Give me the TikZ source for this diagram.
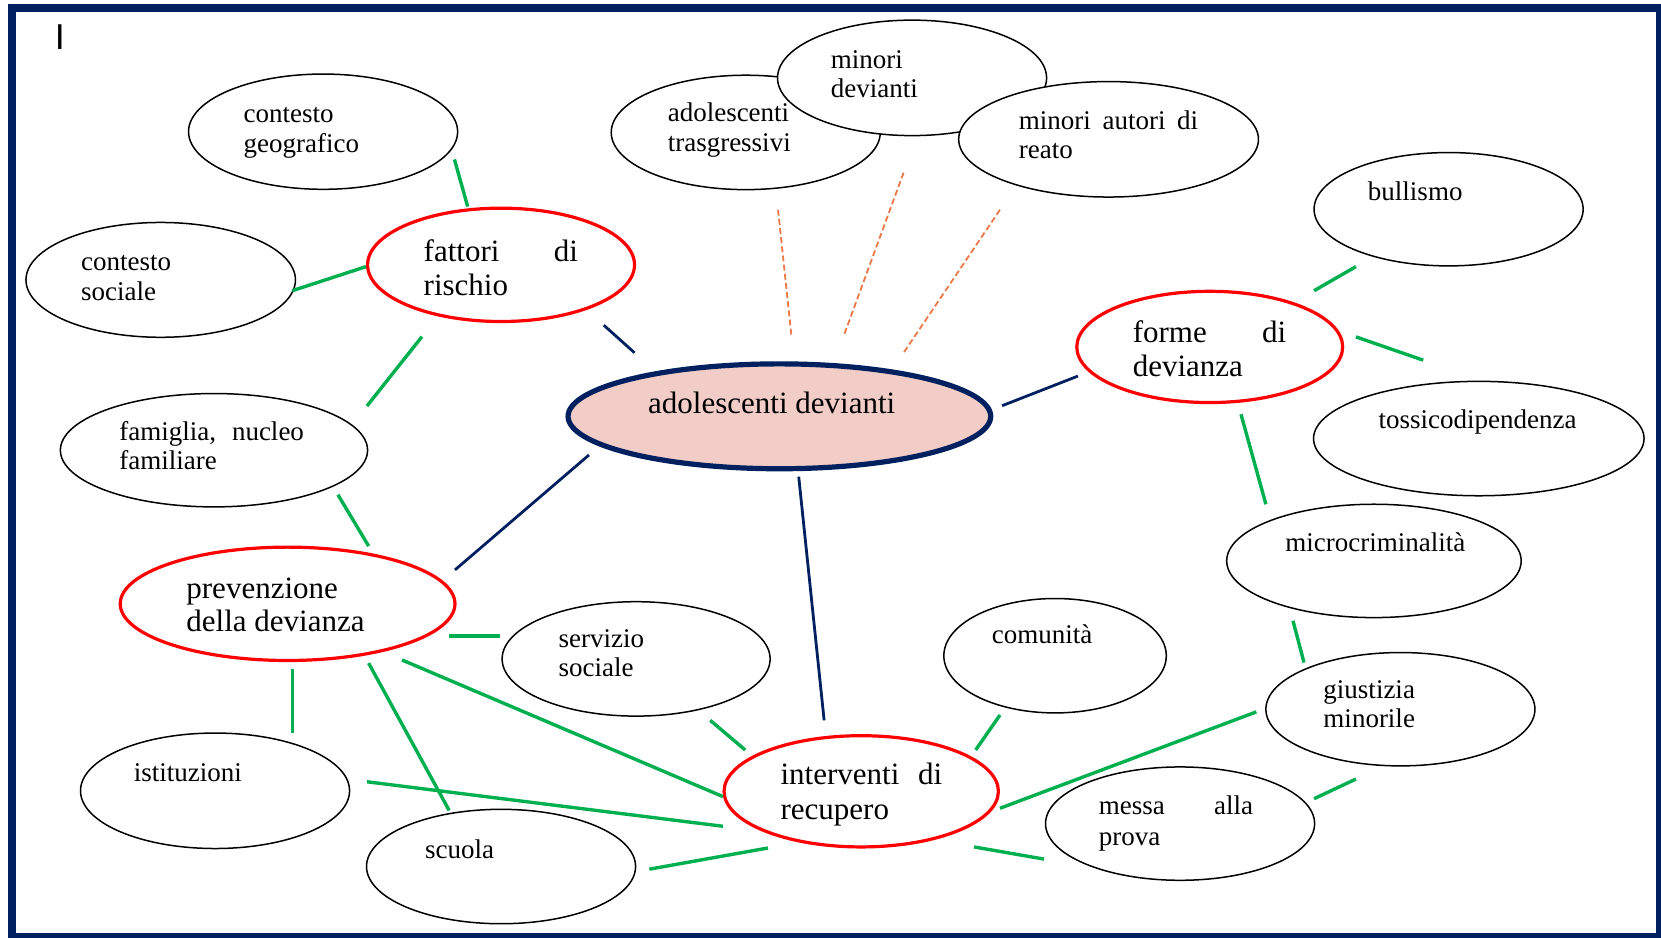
\documentclass[tikz,border=0pt]{standalone}
\usepackage{fontspec}
\setmainfont{Liberation Serif}
\newfontfamily\barfont{Liberation Sans}
\usetikzlibrary{shapes.geometric}
\definecolor{cNavy}{RGB}{0,32,96}
\definecolor{cGreen}{RGB}{0,176,80}
\definecolor{cRed}{RGB}{255,0,0}
\definecolor{cPink}{RGB}{242,204,198}
\definecolor{cOrange}{RGB}{235,120,70}
\begin{document}
\begin{tikzpicture}[x=0.52965pt,y=-0.52965pt,
  el/.style 2 args={ellipse, minimum width={#1*1.0593pt}, minimum height={#2*1.0593pt}, inner sep=0pt, draw=black, line width=0.75pt, fill=white},
  redel/.style 2 args={el={#1}{#2}, draw=cRed, line width=1.6pt},
  mainel/.style 2 args={el={#1}{#2}, draw=cNavy, line width=2.6pt, fill=cPink},
  txt/.style={anchor=base west, inner sep=0pt, font=\fontsize{13.5}{15}\selectfont},
  btxt/.style={anchor=base west, inner sep=0pt, font=\fontsize{15.5}{17}\selectfont},
  gl/.style={draw=cGreen, line width=1.7pt},
  nl/.style={draw=cNavy, line width=1.4pt},
  dl/.style={draw=cOrange, line width=0.9pt, dash pattern=on 3pt off 1.6pt},
]
\useasboundingbox (0,0) rectangle (1568,885);
\begin{scope}
\clip (0,0) rectangle (1568,885);
\draw[cNavy, line width=4pt] (11.3,7.9) rectangle (1567,884.6);
\end{scope}
\node[anchor=base west, inner sep=0pt, font=\barfont\fontsize{18}{20}\selectfont] (cur) at (51.5,46.5) {I};

% ellipses
\node[el={127}{54.4}] (cg) at (305,124.3) {};
\node[el={127.2}{54.2}] (cs) at (151.7,264.2) {};
\node[redel={126}{53.5}] (fr) at (473,250) {};
\node[el={145}{53.5}] (fa) at (202,425) {};
\node[redel={158}{53.5}] (pr) at (271.5,570) {};
\node[el={127}{54.5}] (is) at (203,746.5) {};
\node[el={127}{54}] (sc) at (473,818) {};
\node[el={126.5}{54}] (ss) at (600.5,622) {};
\node[redel={129.5}{52.5}] (ir) at (813,747) {};
\node[el={105}{54}] (co) at (996,619) {};
\node[mainel={199.5}{49.5}] (ad) at (735.75,393) {};
\node[el={127}{54}] (at) at (704,125) {};
\node[el={127}{54.5}] (md) at (861,73.5) {};
\node[el={141.5}{54.5}] (ma) at (1046.5,131.5) {};
\node[redel={125.5}{52.5}] (fo) at (1142,327.5) {};
\node[el={127}{53.5}] (bu) at (1367.5,197.5) {};
\node[el={156}{54}] (to) at (1396,414) {};
\node[el={139}{53.5}] (mc) at (1297,529.5) {};
\node[el={127}{53.5}] (gi) at (1322,669.5) {};
\node[el={127}{53.5}] (mp) at (1114,777.5) {};

% texts
\node[txt] (cg-a) at (229.7,115.8) {contesto};
\node[txt] (cg-b) at (229.7,144.1) {geografico};
\node[txt] (cs-a) at (76.3,254.9) {contesto};
\node[txt] (cs-b) at (76.3,283.2) {sociale};
\node[btxt] (fr-a) at (399.6,247) {\makebox[77.1pt][s]{fattori di}};
\node[btxt] (fr-b) at (399.6,279.4) {rischio};
\node[txt] (fa-a) at (112.3,415.5) {\makebox[92.3pt][s]{famiglia, nucleo}};
\node[txt] (fa-b) at (112.3,443) {familiare};
\node[btxt] (pr-a) at (175.6,565) {prevenzione};
\node[btxt] (pr-b) at (175.6,596.5) {della devianza};
\node[txt] (ss-a) at (527,611) {servizio};
\node[txt] (ss-b) at (527,639) {sociale};
\node[txt] (is-a) at (126,738) {istituzioni};
\node[txt] (sc-a) at (401,810) {scuola};
\node[btxt] (ir-a) at (736.5,741) {\makebox[80.8pt][s]{interventi di}};
\node[btxt] (ir-b) at (736.5,773.5) {recupero};
\node[txt] (co-a) at (936,607) {comunità};
\node[btxt] (ad-a) at (611.5,390) {adolescenti devianti};
\node[txt] (at-a) at (630,115) {adolescenti};
\node[txt] (at-b) at (630,143) {trasgressivi};
\node[txt] (md-a) at (784,65) {minori};
\node[txt] (md-b) at (784,92) {devianti};
\node[txt] (ma-a) at (961.5,122) {\makebox[89.6pt][s]{minori autori di}};
\node[txt] (ma-b) at (961.5,150) {reato};
\node[btxt] (fo-a) at (1069,323) {\makebox[76.7pt][s]{forme di}};
\node[btxt] (fo-b) at (1069,355) {devianza};
\node[txt] (bu-a) at (1291,189) {bullismo};
\node[txt] (to-a) at (1301,404.3) {tossicodipendenza};
\node[txt] (mc-a) at (1213,521) {microcriminalità};
\node[txt] (gi-a) at (1249,659) {giustizia};
\node[txt] (gi-b) at (1249,687) {minorile};
\node[txt] (mp-a) at (1037,768.5) {\makebox[77.1pt][s]{messa alla}};
\node[txt] (mp-b) at (1037,798.6) {prova};

% connector end points
\coordinate (cg-fr1) at (429,150.5);   \coordinate (cg-fr2) at (441.5,195);
\coordinate (cs-fr1) at (276,274.4);   \coordinate (cs-fr2) at (345.5,251.7);
\coordinate (fr-fa1) at (398.3,317.8); \coordinate (fr-fa2) at (346.4,383.3);
\coordinate (fa-pr1) at (319,467);     \coordinate (fa-pr2) at (348,515.5);
\coordinate (pr-ss1) at (424,600.5);   \coordinate (pr-ss2) at (472,600.5);
\coordinate (pr-is1) at (276,631.5);   \coordinate (pr-is2) at (276,692);
\coordinate (pr-sc1) at (348,626);     \coordinate (pr-sc2) at (424,765);
\coordinate (pr-ir1) at (379.5,623);   \coordinate (pr-ir2) at (682.5,752);
\coordinate (is-ir1) at (346.5,738);   \coordinate (is-ir2) at (682.5,780);
\coordinate (ss-ir1) at (670.5,680);   \coordinate (ss-ir2) at (703.5,708);
\coordinate (co-ir1) at (944,675);     \coordinate (co-ir2) at (921,708);
\coordinate (sc-ir1) at (613,820.5);   \coordinate (sc-ir2) at (725,800.5);
\coordinate (ir-mp1) at (919.5,799.5); \coordinate (ir-mp2) at (985.6,811);
\coordinate (ir-gi1) at (944,763);     \coordinate (ir-gi2) at (1186,672);
\coordinate (gi-mp1) at (1280,735.4);  \coordinate (gi-mp2) at (1240.5,754);
\coordinate (mc-gi1) at (1220.6,586);  \coordinate (mc-gi2) at (1231,625.5);
\coordinate (fo-mc1) at (1171.5,391);  \coordinate (fo-mc2) at (1195,476);
\coordinate (fo-bu1) at (1240.5,274.4);\coordinate (fo-bu2) at (1280,251.7);
\coordinate (fo-to1) at (1280,318);    \coordinate (fo-to2) at (1343.5,340);
\coordinate (fr-ad1) at (570,307);     \coordinate (fr-ad2) at (599,333);
\coordinate (ad-pr1) at (556,429.5);   \coordinate (ad-pr2) at (429.5,538);
\coordinate (ad-ir1) at (754,450);     \coordinate (ad-ir2) at (778,680);
\coordinate (ad-fo1) at (946,383);     \coordinate (ad-fo2) at (1017.6,355);
\coordinate (at-ad1) at (734.5,198);   \coordinate (at-ad2) at (747,316);
\coordinate (md-ad1) at (853,163);     \coordinate (md-ad2) at (796.5,317);
\coordinate (ma-ad1) at (944,198);     \coordinate (ma-ad2) at (853,333);

% connectors
\draw[gl] (cg-fr1) -- (cg-fr2);
\draw[gl] (cs-fr1) -- (cs-fr2);
\draw[gl] (fr-fa1) -- (fr-fa2);
\draw[gl] (fa-pr1) -- (fa-pr2);
\draw[gl] (pr-ss1) -- (pr-ss2);
\draw[gl] (pr-is1) -- (pr-is2);
\draw[gl] (pr-sc1) -- (pr-sc2);
\draw[gl] (pr-ir1) -- (pr-ir2);
\draw[gl] (is-ir1) -- (is-ir2);
\draw[gl] (ss-ir1) -- (ss-ir2);
\draw[gl] (co-ir1) -- (co-ir2);
\draw[gl] (sc-ir1) -- (sc-ir2);
\draw[gl] (ir-mp1) -- (ir-mp2);
\draw[gl] (ir-gi1) -- (ir-gi2);
\draw[gl] (gi-mp1) -- (gi-mp2);
\draw[gl] (mc-gi1) -- (mc-gi2);
\draw[gl] (fo-mc1) -- (fo-mc2);
\draw[gl] (fo-bu1) -- (fo-bu2);
\draw[gl] (fo-to1) -- (fo-to2);
\draw[nl] (fr-ad1) -- (fr-ad2);
\draw[nl] (ad-pr1) -- (ad-pr2);
\draw[nl] (ad-ir1) -- (ad-ir2);
\draw[nl] (ad-fo1) -- (ad-fo2);
\draw[dl] (at-ad1) -- (at-ad2);
\draw[dl] (md-ad1) -- (md-ad2);
\draw[dl] (ma-ad1) -- (ma-ad2);
\end{tikzpicture}
\end{document}
